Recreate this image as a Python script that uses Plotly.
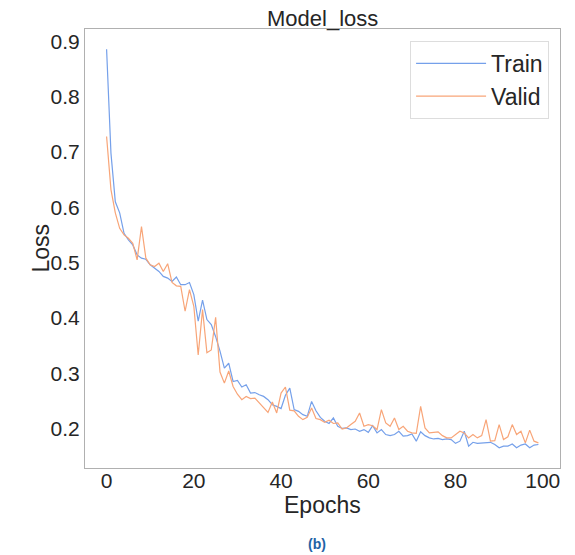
import plotly.graph_objects as go

epochs = list(range(100))
train_loss = [
    0.886, 0.698, 0.610, 0.590, 0.553, 0.541, 0.532, 0.514, 0.508, 0.506,
    0.496, 0.490, 0.484, 0.475, 0.472, 0.466, 0.474, 0.460, 0.460, 0.464,
    0.442, 0.394, 0.432, 0.397, 0.388, 0.366, 0.340, 0.309, 0.318, 0.285,
    0.287, 0.275, 0.279, 0.264, 0.265, 0.261, 0.258, 0.252, 0.243, 0.240,
    0.236, 0.260, 0.273, 0.234, 0.231, 0.225, 0.222, 0.249, 0.232, 0.220,
    0.213, 0.209, 0.219, 0.204, 0.200, 0.201, 0.198, 0.199, 0.195, 0.198,
    0.193, 0.205, 0.192, 0.198, 0.189, 0.187, 0.189, 0.195, 0.186, 0.187,
    0.190, 0.177, 0.194, 0.187, 0.183, 0.181, 0.182, 0.180, 0.181, 0.180,
    0.173, 0.177, 0.195, 0.168, 0.175, 0.173, 0.174, 0.175, 0.175, 0.171,
    0.165, 0.168, 0.168, 0.172, 0.165, 0.170, 0.172, 0.165, 0.170, 0.171,
]
valid_loss = [
    0.728, 0.632, 0.590, 0.562, 0.550, 0.544, 0.535, 0.505, 0.565, 0.508,
    0.496, 0.493, 0.499, 0.484, 0.498, 0.464, 0.458, 0.457, 0.412, 0.451,
    0.421, 0.333, 0.415, 0.337, 0.342, 0.401, 0.302, 0.282, 0.304, 0.276,
    0.262, 0.252, 0.258, 0.254, 0.255, 0.246, 0.237, 0.229, 0.248, 0.228,
    0.264, 0.275, 0.233, 0.232, 0.222, 0.216, 0.220, 0.237, 0.218, 0.216,
    0.211, 0.215, 0.209, 0.210, 0.199, 0.201, 0.207, 0.213, 0.228, 0.204,
    0.207, 0.205, 0.198, 0.234, 0.210, 0.204, 0.219, 0.198, 0.204, 0.195,
    0.192, 0.191, 0.240, 0.201, 0.192, 0.193, 0.194, 0.187, 0.183, 0.183,
    0.189, 0.195, 0.192, 0.183, 0.189, 0.183, 0.187, 0.216, 0.177, 0.178,
    0.207, 0.180, 0.185, 0.207, 0.189, 0.195, 0.174, 0.197, 0.177, 0.174,
]
x_ticks = [0, 20, 40, 60, 80, 100]
y_ticks = [0.2, 0.3, 0.4, 0.5, 0.6, 0.7, 0.8, 0.9]

FONT = "Liberation Sans, Arial, sans-serif"
TXT = "#262626"

fig = go.Figure()
fig.add_trace(go.Scatter(x=epochs, y=train_loss, mode="lines", name="Train",
                         line=dict(color="#75a0ea", width=1.2)))
fig.add_trace(go.Scatter(x=epochs, y=valid_loss, mode="lines", name="Valid",
                         line=dict(color="#f8a578", width=1.2)))

axis_common = dict(showgrid=False, zeroline=False, showline=True, mirror=True,
                   linecolor="#b0b0b0", linewidth=1, ticks="",
                   tickfont=dict(family=FONT, size=21, color=TXT))
fig.update_xaxes(range=[-4.95, 103.95], tickvals=x_ticks,
                 ticklabelstandoff=-6, **axis_common)
fig.update_yaxes(range=[0.1285, 0.9225], tickvals=y_ticks,
                 tickformat=".1f", **axis_common)

fig.update_layout(
    width=575, height=555,
    margin=dict(l=85, r=15, t=29, b=87),
    paper_bgcolor="white", plot_bgcolor="white",
    showlegend=True,
    legend=dict(x=0.977, y=0.973, xanchor="right", yanchor="top",
                bgcolor="white", bordercolor="#dddddd", borderwidth=1,
                itemwidth=70, tracegroupgap=4,
                font=dict(family=FONT, size=23, color=TXT)),
    annotations=[
        dict(text="Model_loss", xref="paper", yref="paper", x=0.5, y=1,
             yshift=-4, xanchor="center", yanchor="bottom", showarrow=False,
             font=dict(family=FONT, size=22, color=TXT)),
        dict(text="Epochs", xref="paper", yref="paper", x=0.5, y=0,
             yshift=-22, xanchor="center", yanchor="top", showarrow=False,
             font=dict(family=FONT, size=23, color=TXT)),
        dict(text="Loss", xref="paper", yref="paper", x=0, y=0.5,
             xshift=-45, xanchor="center", yanchor="middle", textangle=-90,
             showarrow=False, font=dict(family=FONT, size=23, color=TXT)),
        dict(text="<b>(b)</b>", xref="paper", yref="paper", x=0.488, y=0,
             yshift=-76, xanchor="center", yanchor="middle", showarrow=False,
             font=dict(family=FONT, size=14, color="#1f63a6")),
    ],
)

fig.write_html("out.html")
